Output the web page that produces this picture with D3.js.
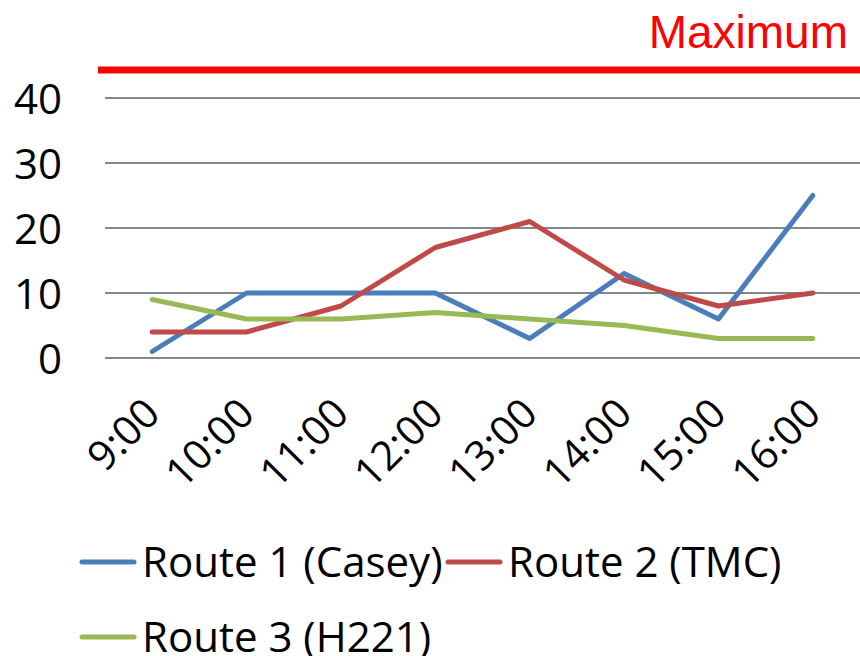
<!DOCTYPE html>
<html>
<head>
<meta charset="utf-8">
<script src="https://cdn.jsdelivr.net/npm/d3@7"></script>
<style>
  body { margin: 0; background: #fff; }
  svg { display: block; }
</style>
</head>
<body>
<svg id="chart" width="860" height="656"></svg>
<script>
const categories = ["9:00", "10:00", "11:00", "12:00", "13:00", "14:00", "15:00", "16:00"];
const route1 = [1, 10, 10, 10, 3, 13, 6, 25];
const route2 = [4, 4, 8, 17, 21, 12, 8, 10];
const route3 = [9, 6, 6, 7, 6, 5, 3, 3];
const yTicks = [0, 10, 20, 30, 40];
const maximumValue = 44.3;

const series = [
  { name: "Route 1 (Casey)", values: route1, color: "#4A7EBB" },
  { name: "Route 2 (TMC)", values: route2, color: "#BE4B48" },
  { name: "Route 3 (H221)", values: route3, color: "#98B954" }
];

const svg = d3.select("#chart");
const width = 860;
const margin = { top: 98, right: 0, left: 105 };
const plotBottom = 358;

const font = "Open Sans, sans-serif";

const x = d3.scaleBand()
  .domain(categories)
  .range([margin.left, width - margin.right])
  .padding(0);

const y = d3.scaleLinear()
  .domain([0, 40])
  .range([plotBottom, margin.top]);

const cx = d => x(d) + x.bandwidth() / 2;

// gridlines
svg.append("g")
  .selectAll("line")
  .data(yTicks)
  .enter()
  .append("line")
  .attr("x1", margin.left)
  .attr("x2", width - margin.right)
  .attr("y1", d => y(d))
  .attr("y2", d => y(d))
  .attr("stroke", "#868686")
  .attr("stroke-width", 2);

// y axis labels
const yAxis = svg.append("g")
  .attr("transform", `translate(62,0)`)
  .call(d3.axisLeft(y).tickValues(yTicks).tickSize(0).tickPadding(0));
yAxis.select(".domain").remove();
yAxis.selectAll("text")
  .attr("font-family", font)
  .attr("font-size", "42px")
  .attr("fill", "#000")
  .attr("dy", "0.36em");

// x axis labels
const xAxis = svg.append("g")
  .attr("transform", `translate(0,${plotBottom})`)
  .call(d3.axisBottom(x).tickSize(0).tickPadding(0));
xAxis.select(".domain").remove();
xAxis.selectAll("text")
  .attr("font-family", font)
  .attr("font-size", "41px")
  .attr("fill", "#000")
  .attr("text-anchor", "end")
  .attr("dy", null)
  .attr("y", 0)
  .attr("transform", "translate(10,58) rotate(-45)");

// maximum line
svg.append("line")
  .attr("x1", 98)
  .attr("x2", width)
  .attr("y1", y(maximumValue))
  .attr("y2", y(maximumValue))
  .attr("stroke", "#FF0000")
  .attr("stroke-width", 7);

svg.append("text")
  .attr("x", 848)
  .attr("y", 48)
  .attr("text-anchor", "end")
  .attr("font-family", "Liberation Sans, Arial, sans-serif")
  .attr("font-size", "46px")
  .attr("fill", "#FF0000")
  .text("Maximum");

// lines
const line = d3.line()
  .x((d, i) => cx(categories[i]))
  .y(d => y(d));

svg.append("g")
  .selectAll("path")
  .data(series)
  .enter()
  .append("path")
  .attr("d", d => line(d.values))
  .attr("fill", "none")
  .attr("stroke", d => d.color)
  .attr("stroke-width", 5)
  .attr("stroke-linejoin", "round")
  .attr("stroke-linecap", "round");

// legend
const legendPos = [
  { x: 80, y: 562 },
  { x: 446, y: 562 },
  { x: 80, y: 637 }
];

const item = svg.append("g")
  .selectAll("g")
  .data(series)
  .enter()
  .append("g")
  .attr("transform", (d, i) => `translate(${legendPos[i].x},${legendPos[i].y})`);

item.append("line")
  .attr("x1", 2)
  .attr("x2", 54)
  .attr("stroke", d => d.color)
  .attr("stroke-width", 5)
  .attr("stroke-linecap", "round");

item.append("text")
  .attr("x", 62)
  .attr("dy", "0.36em")
  .attr("font-family", font)
  .attr("font-size", "42px")
  .attr("fill", "#000")
  .text(d => d.name);
</script>
</body>
</html>
